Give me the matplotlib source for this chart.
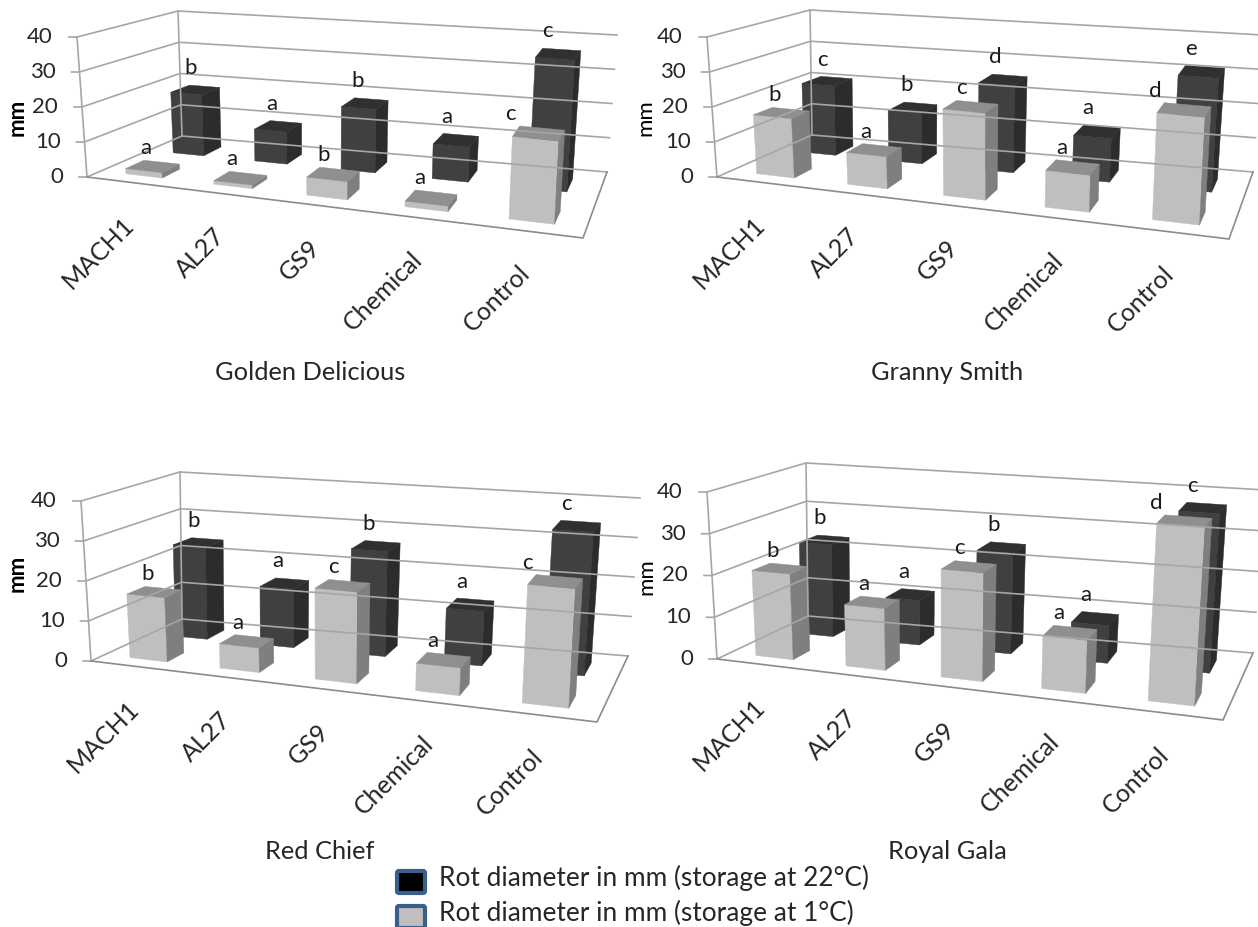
import matplotlib
matplotlib.use("Agg")
import matplotlib.pyplot as plt
from matplotlib.patches import FancyBboxPatch
import numpy as np

plt.rcParams['font.family'] = ['Lato', 'DejaVu Sans']

categories = ["MACH1", "AL27", "GS9", "Chemical", "Control"]
y_ticks = [0, 10, 20, 30, 40]

golden_cold = [1.5, 1, 5, 1.5, 22]
golden_warm = [18.5, 9.5, 18.5, 10, 37]
golden_cold_letters = ["a", "a", "b", "a", "c"]
golden_warm_letters = ["b", "a", "b", "a", "c"]

granny_cold = [17, 9, 24, 10, 28.5]
granny_warm = [21, 15, 25.5, 12.5, 32]
granny_cold_letters = ["b", "a", "c", "a", "d"]
granny_warm_letters = ["c", "b", "d", "a", "e"]

red_cold = [16, 6, 22, 6.5, 27.5]
red_warm = [24, 15, 26.5, 13.5, 35]
red_cold_letters = ["b", "a", "c", "a", "c"]
red_warm_letters = ["b", "a", "b", "a", "c"]

royal_cold = [20.5, 14.5, 25, 12, 39.5]
royal_warm = [23, 11, 24.5, 9, 37.5]
royal_cold_letters = ["b", "a", "c", "a", "d"]
royal_warm_letters = ["b", "a", "b", "a", "c"]

legend_labels = ["Rot diameter in mm (storage at 22°C)", "Rot diameter in mm (storage at 1°C)"]

# box corners in pixels: front-left, back-left, back-right, front-right
# first floor level, then level 40
golden_box = [[(87, 178), (182, 137), (607, 173), (583, 239)],
              [(77, 38), (178, 12), (617, 36), (592, 84)]]
granny_box = [[(717, 178), (812, 136), (1253, 173), (1229, 240)],
              [(707, 38), (810, 11), (1263, 36), (1238, 85)]]
red_box = [[(91, 662), (182, 620), (628, 657), (597, 723)],
           [(81, 502), (180, 473), (640, 499), (608, 545)]]
royal_box = [[(717, 660), (808, 617), (1253, 654), (1223, 721)],
             [(707, 493), (806, 464), (1265, 491), (1235, 535)]]

panels = [
    ("Golden Delicious", (310, 373), (17, 117), golden_box, golden_cold, golden_warm, golden_cold_letters, golden_warm_letters, True),
    ("Granny Smith", (947, 373), (645, 118), granny_box, granny_cold, granny_warm, granny_cold_letters, granny_warm_letters, False),
    ("Red Chief", (320, 852), (17, 573), red_box, red_cold, red_warm, red_cold_letters, red_warm_letters, True),
    ("Royal Gala", (947, 852), (646, 577), royal_box, royal_cold, royal_warm, royal_cold_letters, royal_warm_letters, False),
]

PERSP = 1.15  # the right end of the chart is nearer, so categories spread out

fig = plt.figure(figsize=(12.58, 9.28), dpi=100)
ax = fig.add_axes([0, 0, 1, 1])
ax.set_xlim(0, 1258)
ax.set_ylim(928, 0)
ax.axis("off")


def project(box, u, v, val):
    # u left to right, v front to back, val in mm
    u = u / (u + PERSP * (1 - u))
    w = val / 40
    floor = np.array(box[0], dtype=float)
    top = np.array(box[1], dtype=float)
    a = floor[0] * (1 - v) + floor[1] * v
    b = floor[3] * (1 - v) + floor[2] * v
    c = top[0] * (1 - v) + top[1] * v
    d = top[3] * (1 - v) + top[2] * v
    low = a * (1 - u) + b * u
    high = c * (1 - u) + d * u
    return low * (1 - w) + high * w


def draw_bar(box, i, v_mid, val, colors):
    half = 0.042 if v_mid < 0.5 else 0.038
    u0, u1 = 0.1 + 0.2 * i - half, 0.1 + 0.2 * i + half
    v0, v1 = v_mid - 0.1, v_mid + 0.1
    p = lambda u, v, h: project(box, u, v, h)
    front = [p(u0, v0, 0), p(u1, v0, 0), p(u1, v0, val), p(u0, v0, val)]
    side = [p(u1, v0, 0), p(u1, v1, 0), p(u1, v1, val), p(u1, v0, val)]
    top = [p(u0, v0, val), p(u1, v0, val), p(u1, v1, val), p(u0, v1, val)]
    for face, col in zip((front, side, top), colors):
        ax.fill(*zip(*face), color=col, lw=0.3)


dark = ("#404040", "#2c2c2c", "#303030")
light = ("#bfbfbf", "#7f7f7f", "#8f8f8f")

for name, title_xy, mm_xy, box, cold, warm, cold_letters, warm_letters, bold_mm in panels:
    # walls and floor
    for t in y_ticks:
        l0 = project(box, 0, 0, t)
        l1 = project(box, 0, 1, t)
        r1 = project(box, 1, 1, t)
        tick = l0 + np.array([-8, 0])
        ax.plot([tick[0], l0[0], l1[0], r1[0]], [tick[1], l0[1], l1[1], r1[1]], color="#a6a6a6", lw=1.2)
        ax.text(l0[0] - 24, l0[1] - 1, str(t), ha="right", va="center", fontsize=16, color="#262626")
    for u, v in [(0, 0), (0, 1)]:
        s = project(box, u, v, 0)
        e = project(box, u, v, 40)
        ax.plot([s[0], e[0]], [s[1], e[1]], color="#a6a6a6", lw=1.2)
    floor_line = [project(box, *c, 0) for c in [(0, 0), (1, 0), (1, 1)]]
    ax.plot(*zip(*floor_line), color="#8c8c8c", lw=1.2)

    # back row first, the front row hides it
    for i in range(len(categories)):
        draw_bar(box, i, 0.75, warm[i], dark)
    for i in range(len(categories)):
        draw_bar(box, i, 0.25, cold[i], light)

    for i in range(len(categories)):
        u = 0.1 + 0.2 * i
        pos = project(box, u, 0.85, warm[i])
        ax.text(pos[0] - 14, pos[1] - 19, warm_letters[i], ha="center", va="center", fontsize=16, color="#1a1a1a")
        pos = project(box, u, 0.35, cold[i])
        shift = 32 if i == 4 else 16
        ax.text(pos[0] - shift, pos[1] - 15, cold_letters[i], ha="center", va="center", fontsize=16, color="#1a1a1a")
        base = project(box, u, 0, 0)
        ax.text(base[0] - 9, base[1] + 29, categories[i], rotation=45, rotation_mode="anchor",
                ha="right", va="top", fontsize=18, color="#262626")

    ax.text(mm_xy[0], mm_xy[1], "mm", rotation=90, ha="center", va="center", fontsize=16,
            fontweight="bold" if bold_mm else "normal", color="black")
    ax.text(title_xy[0], title_xy[1], name, ha="center", va="center", fontsize=18.3, color="#262626")

# legend
for y, col, label in [(870, "black", legend_labels[0]), (905, "#bfbfbf", legend_labels[1])]:
    ax.add_patch(FancyBboxPatch((397, y + 2), 28, 22, boxstyle="round,pad=0,rounding_size=2",
                                fc=col, ec="#3b5f8c", lw=3))
    ax.text(439, y + 8, label, ha="left", va="center", fontsize=18.9, color="#262626")

fig.savefig("out.png", dpi=100)
